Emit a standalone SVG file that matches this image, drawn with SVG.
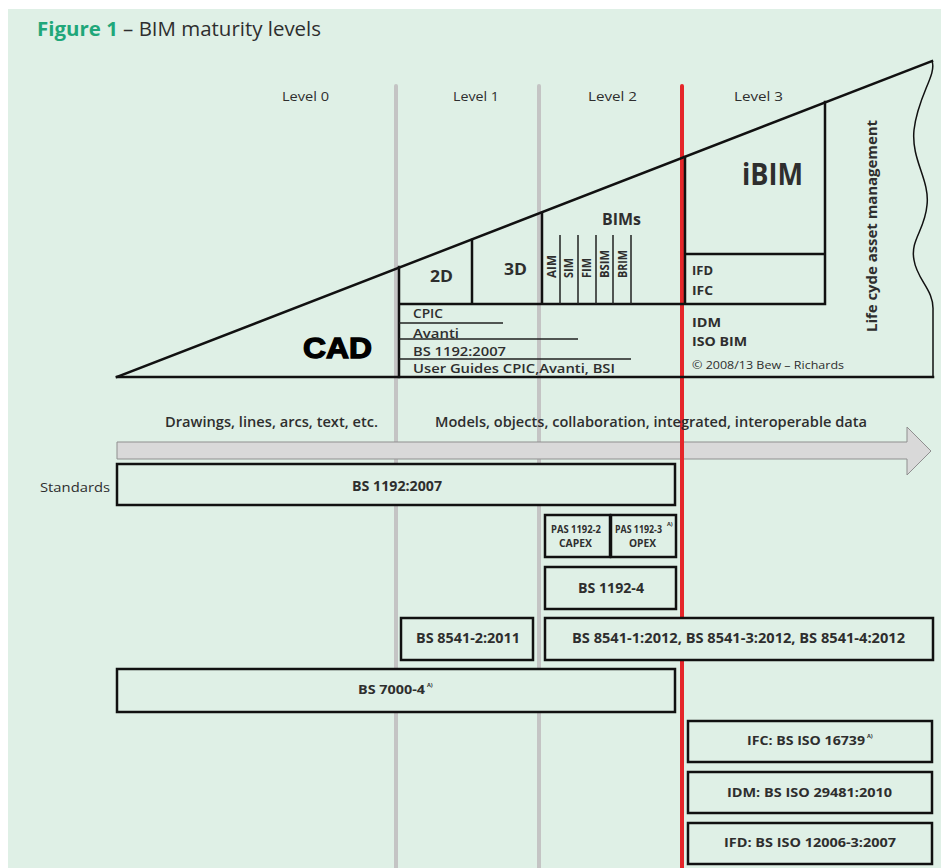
<svg xmlns="http://www.w3.org/2000/svg" width="941" height="868" viewBox="0 0 941 868">
<style>
text{font-family:"Open Sans","Noto Sans","Liberation Sans",sans-serif;fill:#2e2e2e}
.lv{font-size:13.5px}
.b{font-weight:700}
.sb{font-weight:600}
.ln{stroke:#111;stroke-width:2.5;fill:none;stroke-linecap:square}
.thin{stroke:#222;stroke-width:1.3;fill:none}
.bx{fill:#dff0e6;stroke:#111;stroke-width:2.5}
.gl{stroke:#c4c4c4;stroke-width:4;stroke-linecap:round}
.sup{font-size:5.5px;font-weight:700}
</style>
<rect x="8" y="9" width="933" height="859" fill="#dff0e6"/>
<text x="37" y="36" font-size="19.5" textLength="284" lengthAdjust="spacingAndGlyphs"><tspan class="b" fill="#1fa77a" style="fill:#1fa77a">Figure 1</tspan> – BIM maturity levels</text>

<g id="level-lines">
<line class="gl" x1="396" y1="86" x2="396" y2="870"/>
<line class="gl" x1="539" y1="86" x2="539" y2="870"/>
</g>

<g id="arrow">
<path d="M117,442 H907 V427 L931,451 L907,475 V459 H117 Z" fill="#d9d9d9" stroke="#8f8f8f" stroke-width="1"/>
</g>

<line x1="682" y1="86" x2="682" y2="870" stroke="#e5262a" stroke-width="4" stroke-linecap="round"/>

<g id="levels">
<text class="lv" x="282" y="101" textLength="47" lengthAdjust="spacingAndGlyphs">Level 0</text>
<text class="lv" x="453" y="101" textLength="46" lengthAdjust="spacingAndGlyphs">Level 1</text>
<text class="lv" x="588" y="101" textLength="49" lengthAdjust="spacingAndGlyphs">Level  2</text>
<text class="lv" x="734" y="101" textLength="49" lengthAdjust="spacingAndGlyphs">Level  3</text>
</g>

<g id="maturity-triangle">
<path class="ln" d="M117,377 L932,61"/>
<path class="ln" d="M117,377 H933"/>
<path stroke="#111" stroke-width="1.5" fill="none" d="M932,61 C937,75 918,95 914,130 C911,160 930,180 927,205 C925,230 910,240 914,260 C917,280 934,290 933,310 L933,377"/>
<path class="ln" d="M399,267 V377 M399,304 H825 M472,240 V304 M542,213 V304 M685,157 V304 M825,102 V304 M685,254 H825"/>
<path stroke="#222" stroke-width="1.5" d="M560,235 V304 M578,235 V304 M596,235 V304 M613,235 V304 M631,235 V304"/>
<path class="thin" d="M399,323 H503 M399,339 H578 M399,359 H631"/>
</g>

<g id="cad"><text x="303" y="358" font-size="29" class="b" textLength="69" lengthAdjust="spacingAndGlyphs" stroke="#000" stroke-width="1.3" style="font-family:'Liberation Sans',Arial,sans-serif;fill:#000">CAD</text></g>
<g id="level1-2d"><text x="430" y="282" font-size="15.5" class="b" textLength="23" lengthAdjust="spacingAndGlyphs">2D</text></g>
<g id="level1-3d"><text x="504" y="275" font-size="15.5" class="b" textLength="23" lengthAdjust="spacingAndGlyphs">3D</text></g>
<g id="bims">
<text x="602" y="225" font-size="15.5" class="b" textLength="39" lengthAdjust="spacingAndGlyphs">BIMs</text>
<text transform="translate(556,278) rotate(-90)" font-size="12" class="b" textLength="23" lengthAdjust="spacingAndGlyphs">AIM</text>
<text transform="translate(573,278) rotate(-90)" font-size="12" class="b" textLength="20" lengthAdjust="spacingAndGlyphs">SIM</text>
<text transform="translate(591,278) rotate(-90)" font-size="12" class="b" textLength="20" lengthAdjust="spacingAndGlyphs">FIM</text>
<text transform="translate(609,278) rotate(-90)" font-size="12" class="b" textLength="28" lengthAdjust="spacingAndGlyphs">BSIM</text>
<text transform="translate(627,278) rotate(-90)" font-size="12" class="b" textLength="28" lengthAdjust="spacingAndGlyphs">BRIM</text>
</g>
<g id="level1-standards">
<text x="413" y="318" font-size="13" class="sb" textLength="30" lengthAdjust="spacingAndGlyphs">CPIC</text>
<text x="413" y="338" font-size="13" class="sb" textLength="46" lengthAdjust="spacingAndGlyphs">Avanti</text>
<text x="413" y="356" font-size="12.5" class="sb" textLength="93" lengthAdjust="spacingAndGlyphs">BS 1192:2007</text>
<text x="413" y="373" font-size="12.5" class="sb" textLength="202" lengthAdjust="spacingAndGlyphs">User Guides CPIC,Avanti, BSI</text>
</g>
<g id="ibim"><text x="742" y="185" font-size="30" class="b" textLength="61" lengthAdjust="spacingAndGlyphs">iBIM</text></g>
<g id="level3-standards">
<text x="692" y="275" font-size="13" class="b" textLength="21" lengthAdjust="spacingAndGlyphs">IFD</text>
<text x="692" y="295" font-size="13" class="b" textLength="21" lengthAdjust="spacingAndGlyphs">IFC</text>
<text x="692" y="327" font-size="13" class="b" textLength="29" lengthAdjust="spacingAndGlyphs">IDM</text>
<text x="692" y="346" font-size="13" class="b" textLength="55" lengthAdjust="spacingAndGlyphs">ISO BIM</text>
<text x="692" y="369" font-size="11" textLength="152" lengthAdjust="spacingAndGlyphs">©  2008/13 Bew – Richards</text>
</g>
<g id="lifecycle"><text transform="translate(877,332) rotate(-90)" font-size="15" class="b" textLength="212" lengthAdjust="spacingAndGlyphs">Life cyde asset management</text></g>

<g id="arrow-labels">
<text x="165" y="427" font-size="13.5" class="sb" textLength="213" lengthAdjust="spacingAndGlyphs">Drawings, lines, arcs, text, etc.</text>
<text x="435" y="427" font-size="13.5" class="sb" textLength="432" lengthAdjust="spacingAndGlyphs">Models, objects, collaboration, integrated, interoperable data</text>
</g>

<text x="40" y="492" class="lv" textLength="70" lengthAdjust="spacingAndGlyphs">Standards</text>

<g id="bs1192-2007"><rect class="bx" x="117" y="464" width="558" height="41"/><text x="352" y="491" font-size="13.5" class="b" textLength="90" lengthAdjust="spacingAndGlyphs">BS 1192:2007</text></g>
<g id="pas1192-2"><rect class="bx" x="545" y="515" width="65" height="42"/><text x="551" y="533" font-size="10" class="b" textLength="50" lengthAdjust="spacingAndGlyphs">PAS 1192-2</text><text x="559" y="547" font-size="10" class="b" textLength="33" lengthAdjust="spacingAndGlyphs">CAPEX</text></g>
<g id="pas1192-3"><rect class="bx" x="611" y="515" width="65" height="42"/><text x="615" y="533" font-size="10" class="b" textLength="47" lengthAdjust="spacingAndGlyphs">PAS 1192-3</text><text x="667" y="526" class="sup">A)</text><text x="629" y="547" font-size="10" class="b" textLength="27" lengthAdjust="spacingAndGlyphs">OPEX</text></g>
<g id="bs1192-4"><rect class="bx" x="545" y="567" width="131" height="42"/><text x="578" y="593" font-size="14" class="b" textLength="66" lengthAdjust="spacingAndGlyphs">BS 1192-4</text></g>
<g id="bs8541-2"><rect class="bx" x="401" y="618" width="132" height="42"/><text x="416" y="643" font-size="13.5" class="b" textLength="104" lengthAdjust="spacingAndGlyphs">BS 8541-2:2011</text></g>
<g id="bs8541-134"><rect class="bx" x="545" y="618" width="388" height="42"/><text x="572" y="643" font-size="13.5" class="b" textLength="333" lengthAdjust="spacingAndGlyphs">BS 8541-1:2012, BS 8541-3:2012, BS 8541-4:2012</text></g>
<g id="bs7000-4"><rect class="bx" x="117" y="669" width="558" height="43"/><text x="358" y="694" font-size="12.5" class="b" textLength="67" lengthAdjust="spacingAndGlyphs">BS 7000-4</text><text x="427" y="687" class="sup">A)</text></g>
<g id="ifc"><rect class="bx" x="688" y="721" width="244" height="41"/><text x="747" y="745" font-size="13" class="b" textLength="118" lengthAdjust="spacingAndGlyphs">IFC: BS ISO 16739</text><text x="867" y="738" class="sup">A)</text></g>
<g id="idm"><rect class="bx" x="688" y="772" width="244" height="41"/><text x="727" y="797" font-size="13" class="b" textLength="165" lengthAdjust="spacingAndGlyphs">IDM: BS ISO 29481:2010</text></g>
<g id="ifd"><rect class="bx" x="688" y="823" width="244" height="41"/><text x="724" y="847" font-size="13" class="b" textLength="172" lengthAdjust="spacingAndGlyphs">IFD: BS ISO 12006-3:2007</text></g>
</svg>
